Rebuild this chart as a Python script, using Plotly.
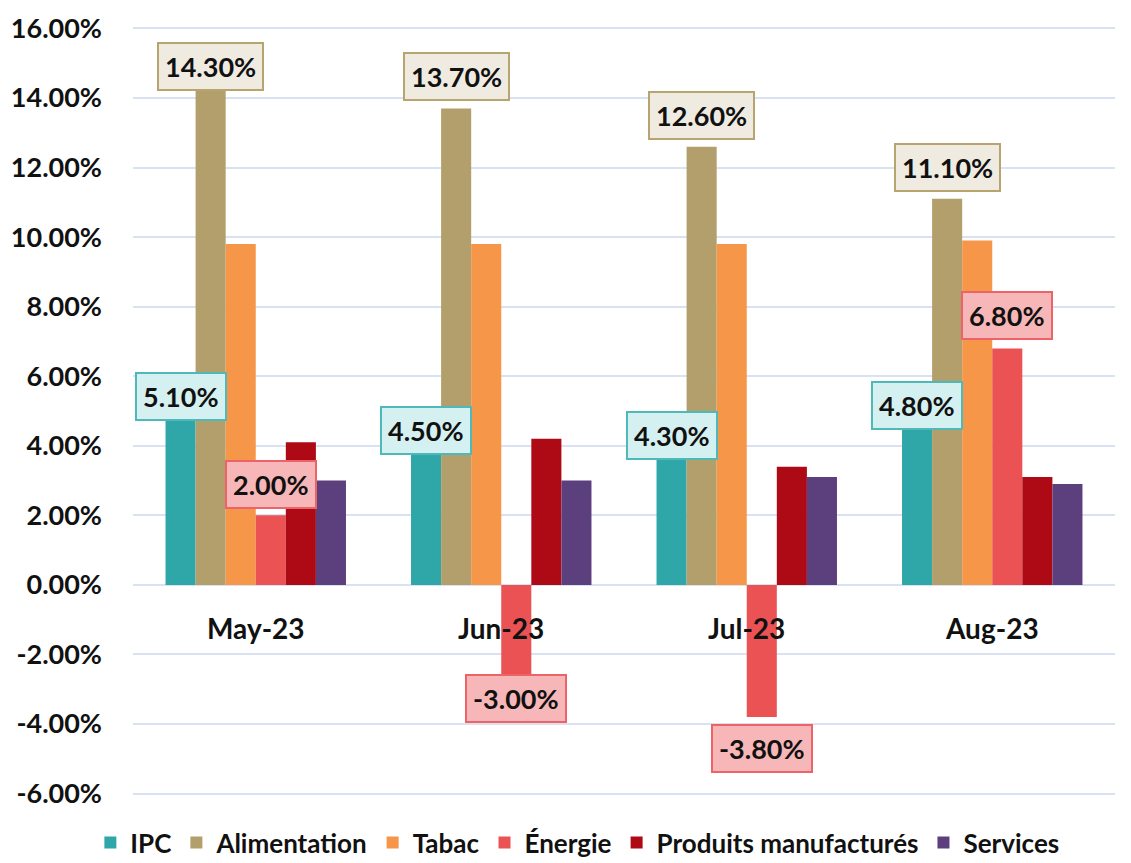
import plotly.graph_objects as go

months = ["May-23", "Jun-23", "Jul-23", "Aug-23"]
series = ["IPC", "Alimentation", "Tabac", "Énergie", "Produits manufacturés", "Services"]
ipc = [5.1, 4.5, 4.3, 4.8]
alimentation = [14.3, 13.7, 12.6, 11.1]
tabac = [9.8, 9.8, 9.8, 9.9]
energie = [2.0, -3.0, -3.8, 6.8]
produits = [4.1, 4.2, 3.4, 3.1]
services = [3.0, 3.0, 3.1, 2.9]
y_ticks = [-6, -4, -2, 0, 2, 4, 6, 8, 10, 12, 14, 16]

values = [ipc, alimentation, tabac, energie, produits, services]
colors = ["#2fa7a9", "#b39f6b", "#f59648", "#eb5254", "#ad0a16", "#5c3f7d"]

bargap = 0.265
nser = len(series)
bw = (1 - bargap) / nser

fig = go.Figure()
for name, vals, col in zip(series, values, colors):
    fig.add_trace(go.Bar(x=months, y=vals, name=f"<b>{name}</b>",
                         marker_color=col, marker_line_width=0))

# labelled series: fill, border, and how far (px) the box centre sits from the bar end
labelled = {
    0: ("#d4f0f0", "#4fb8b8", [11, -2, 0, 12]),
    1: ("#efebe1", "#b8a46e", [21, 32, 31, 31]),
    3: ("#f7b6b7", "#ec6467", [31, -9, -31, 33]),
}
font = dict(family="Lato", size=27, color="#111111")
for si, (bg, bc, shifts) in labelled.items():
    off = -(1 - bargap) / 2 + (si + 0.5) * bw
    for mi, v in enumerate(values[si]):
        fig.add_annotation(x=mi + off, y=v, text=f"<b>{v:.2f}%</b>",
                           showarrow=False, font=font, bgcolor=bg,
                           bordercolor=bc, borderwidth=2, borderpad=6,
                           yanchor="middle", yshift=shifts[mi])

for mi, m in enumerate(months):
    fig.add_annotation(x=mi, y=0, text=f"<b>{m}</b>", showarrow=False,
                       font=dict(family="Lato", size=28, color="#111111"),
                       yanchor="top", yshift=-24)

# page body has an 8px margin, so the figure is drawn slightly smaller
fig.update_layout(
    width=1123, height=855,
    margin=dict(l=125, r=16, t=19, b=68, autoexpand=False),
    plot_bgcolor="white", paper_bgcolor="white",
    barmode="group", bargap=bargap, bargroupgap=0,
    font=dict(family="Lato", size=24, color="#111111"),
    legend=dict(orientation="h", xref="container", x=0.507, xanchor="center",
                yref="container", y=0.024, yanchor="middle",
                font=dict(family="Lato", size=26, color="#111111"),
                itemwidth=30, tracegroupgap=0),
    showlegend=True,
)
fig.update_xaxes(showticklabels=False, showgrid=False, zeroline=False,
                 range=[-0.5, 3.5])
fig.update_yaxes(range=[-6.04, 16.04], tickvals=y_ticks,
                 ticktext=[f"<b>{t:.2f}%</b>" for t in y_ticks],
                 showgrid=True, gridcolor="#d9e2f3", gridwidth=1.5,
                 zeroline=True, zerolinecolor="#d9e2f3", zerolinewidth=1.5,
                 ticks="", ticklabelstandoff=30,
                 tickfont=dict(family="Lato", size=27, color="#111111"))

fig.write_html("out.html")
